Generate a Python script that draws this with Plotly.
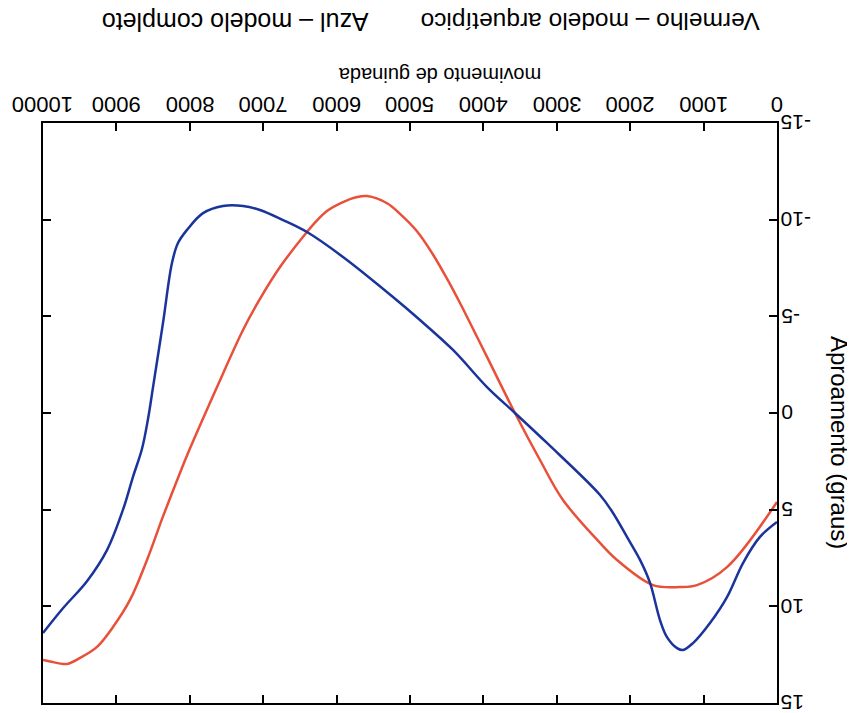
import plotly.graph_objects as go

# Data
red_x = [0, 681, 1090, 1322, 1689, 2180, 2411, 2916, 3229, 3570, 3951, 4319, 4496, 4687,
         4905, 5136, 5313, 5586, 5722, 5913, 6131, 6270, 6404, 6771, 7044, 7275, 7629,
         8038, 8134, 8365, 8583, 8815, 9046, 9264, 9496, 9673, 9905, 10000]
red_y = [4.6, 7.97, 8.9, 9.0, 8.9, 7.6, 6.72, 4.5, 2.43, 0, -2.9, -5.69, -6.95, -8.2,
         -9.4, -10.3, -10.85, -11.22, -11.17, -10.91, -10.45, -9.95, -9.36, -7.55, -5.9,
         -4.29, -1.34, 2.2, 3.1, 5.35, 7.6, 9.67, 11.07, 12.1, 12.67, 12.98, 12.85, 12.78]

blue_x = [0, 232, 463, 681, 913, 1144, 1281, 1362, 1499, 1594, 1730, 1866, 2044, 2234,
          2411, 3134, 3570, 3951, 4414, 4864, 5232, 5913, 6404, 6730, 7044, 7275, 7548,
          7820, 8038, 8161, 8243, 8365, 8501, 8569, 8651, 8774, 8910, 9128, 9401, 9728,
          10000]
blue_y = [5.64, 6.41, 7.76, 9.52, 10.86, 11.9, 12.26, 12.16, 11.59, 10.71, 8.79, 7.6,
          6.41, 5.17, 4.24, 1.55, 0, -1.34, -3.26, -4.81, -6.0, -8.07, -9.36, -9.98, -10.5,
          -10.71, -10.71, -10.34, -9.47, -8.79, -7.76, -4.66, -1.34, 0.3, 1.85, 3.3, 5.0,
          7.09, 8.7, 10.1, 11.38]

x_ticks = [0, 1000, 2000, 3000, 4000, 5000, 6000, 7000, 8000, 9000, 10000]
x_tick_labels = ["0", "1000", "2000", "3000", "4000", "5000", "6000", "7000", "8000",
                 "9000", "10000"]
y_ticks = [-15, -10, -5, 0, 5, 10, 15]
y_tick_labels = ["-15", "-10", "-5", "0", "5", "10", "15"]

legend_red = "Vermelho – modelo arquetípico"
legend_blue = "Azul – modelo completo"
x_title = "movimento de guinada"
y_title = "Aproamento (graus)"

FONT = "Liberation Sans, Arial, sans-serif"

fig = go.Figure()
fig.add_trace(go.Scatter(x=red_x, y=red_y, mode="lines",
                         line=dict(color="#E8503A", width=2.5, shape="spline", smoothing=1.0),
                         showlegend=False, hoverinfo="skip"))
fig.add_trace(go.Scatter(x=blue_x, y=blue_y, mode="lines",
                         line=dict(color="#1B349C", width=2.5, shape="spline", smoothing=1.0),
                         showlegend=False, hoverinfo="skip"))

# page has an 8px body margin, so the figure is 8px smaller and margins shifted
fig.update_layout(
    width=847, height=705,
    margin=dict(l=35, r=78, t=115, b=10, autoexpand=False),
    paper_bgcolor="white", plot_bgcolor="white",
    font=dict(family=FONT, color="black"),
    xaxis=dict(range=[10000, 0], side="top", tickvals=x_ticks, automargin=False,
               ticks="inside", ticklen=8, tickwidth=2, tickcolor="black",
               showline=True, linecolor="black", linewidth=2, mirror="ticks",
               showgrid=False, zeroline=False, showticklabels=False),
    yaxis=dict(range=[15, -15], side="right", tickvals=y_ticks, automargin=False,
               ticks="inside", ticklen=8, tickwidth=2, tickcolor="black",
               showline=True, linecolor="black", linewidth=2, mirror="ticks",
               showgrid=False, zeroline=False, showticklabels=False),
)

# upside-down tick labels (the whole figure is rotated by 180 degrees)
for v, t in zip(x_ticks, x_tick_labels):
    fig.add_annotation(xref="x", yref="paper", x=v, y=1.031, text=t, showarrow=False,
                       textangle=180, xanchor="center", yanchor="middle",
                       font=dict(size=22, family=FONT, color="black"))
for v, t in zip(y_ticks, y_tick_labels):
    fig.add_annotation(xref="paper", yref="y", x=1.002, y=v, text=t, showarrow=False,
                       textangle=180, xanchor="left", yanchor="middle",
                       font=dict(size=21, family=FONT, color="black"))

anns = [
    dict(text=legend_red, x=0.745, y=1.174, size=24.5),
    dict(text=legend_blue, x=0.262, y=1.174, size=25),
    dict(text=x_title, x=0.541, y=1.083, size=20),
]
for a in anns:
    fig.add_annotation(xref="paper", yref="paper", showarrow=False, textangle=180,
                       xanchor="center", yanchor="middle", text=a["text"], x=a["x"], y=a["y"],
                       font=dict(size=a["size"], family=FONT, color="black"))
fig.add_annotation(xref="paper", yref="paper", showarrow=False, textangle=90,
                   x=1.086, y=0.45, xanchor="center", yanchor="middle", text=y_title,
                   font=dict(size=24, family=FONT, color="black"))

fig.write_html("out.html")
